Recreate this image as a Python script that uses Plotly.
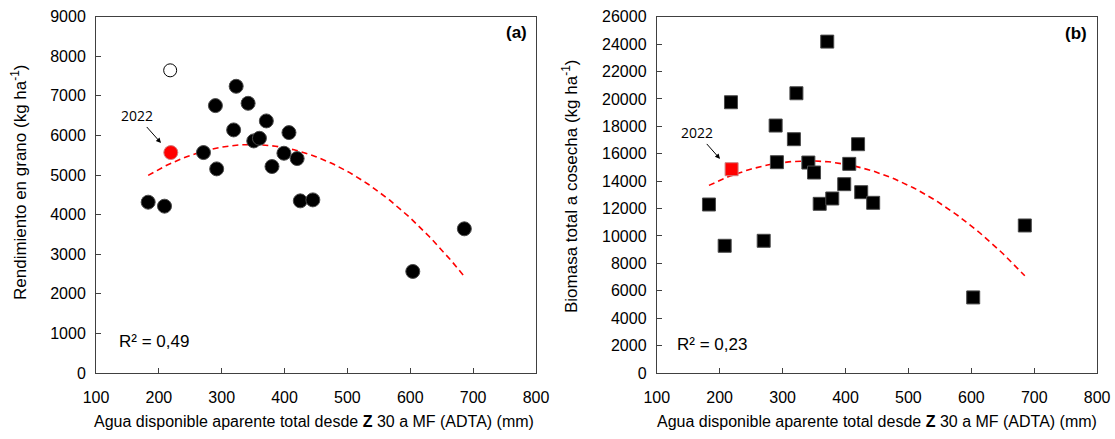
import numpy as np
import plotly.graph_objects as go
from plotly.subplots import make_subplots

# ---- Data (a): grain yield ----
adta_a = [183, 209, 271, 290, 292, 319, 323, 342, 351, 360, 371, 380, 399, 407, 420, 425, 445, 604, 686]
yield_a = [4315, 4214, 5568, 6754, 5156, 6140, 7242, 6812, 5862, 5929, 6367, 5215, 5551, 6072, 5416, 4348, 4373, 2565, 3642]
red_a_x = [219]
red_a_y = [5568]
open_a_x = [218]
open_a_y = [7645]
fit_a = [-0.029, 20.13, 2278]   # quadratic coefficients (a)

# ---- Data (b): total biomass ----
adta_b = [183, 208, 218, 270, 289, 291, 318, 322, 341, 350, 359, 371, 379, 398, 406, 420, 425, 444, 603, 685]
bio_b = [12296, 9283, 19757, 9648, 18056, 15383, 17060, 20413, 15358, 14629, 12345, 24180, 12734, 13779, 15261, 16695, 13196, 12418, 5516, 10765]
red_b_x = [219]
red_b_y = [14872]
fit_b = [-0.0711, 48.58, 7183]  # quadratic coefficients (b)

fit_range = [183, 685]

xt = [100, 200, 300, 400, 500, 600, 700, 800]
yt_a = list(range(0, 9001, 1000))
yt_b = list(range(0, 26001, 2000))

FONT = "Liberation Sans, Arial, sans-serif"
xs = np.linspace(fit_range[0], fit_range[1], 120)

fig = make_subplots(rows=1, cols=2)

fig.add_trace(go.Scatter(x=xs, y=np.polyval(fit_a, xs), mode="lines",
                         line=dict(color="#FF0000", width=1.6, dash="6px,4px")), 1, 1)
fig.add_trace(go.Scatter(x=adta_a, y=yield_a, mode="markers",
                         marker=dict(symbol="circle", size=14, color="black",
                                     line=dict(color="#4a4a4a", width=1))), 1, 1)
fig.add_trace(go.Scatter(x=red_a_x, y=red_a_y, mode="markers",
                         marker=dict(symbol="circle", size=14, color="#FF0000",
                                     line=dict(color="#d08080", width=1))), 1, 1)
fig.add_trace(go.Scatter(x=open_a_x, y=open_a_y, mode="markers",
                         marker=dict(symbol="circle", size=13, color="white",
                                     line=dict(color="black", width=1))), 1, 1)

fig.add_trace(go.Scatter(x=xs, y=np.polyval(fit_b, xs), mode="lines",
                         line=dict(color="#FF0000", width=1.6, dash="6px,4px")), 1, 2)
fig.add_trace(go.Scatter(x=adta_b, y=bio_b, mode="markers",
                         marker=dict(symbol="square", size=13, color="black",
                                     line=dict(color="#4a4a4a", width=1))), 1, 2)
fig.add_trace(go.Scatter(x=red_b_x, y=red_b_y, mode="markers",
                         marker=dict(symbol="square", size=13, color="#FF0000",
                                     line=dict(color="#d08080", width=1))), 1, 2)

axis_common = dict(showgrid=False, zeroline=False, showline=True, linecolor="#404040",
                   linewidth=1, mirror=True, ticks="inside", ticklen=5, tickcolor="#404040",
                   automargin=False,
                   tickfont=dict(family=FONT, size=16, color="black"))

fig.update_xaxes(**axis_common, range=[100, 800], tickvals=xt, ticktext=[str(v) for v in xt],
                 ticklabelstandoff=10)
fig.update_xaxes(domain=[0.0861, 0.4807], row=1, col=1)
fig.update_xaxes(domain=[0.589, 0.984], row=1, col=2)

fig.update_yaxes(**axis_common, ticklabelstandoff=6)
fig.update_yaxes(range=[0, 9000], tickvals=yt_a, ticktext=[str(v) for v in yt_a],
                 domain=[0.1503, 0.962], row=1, col=1)
fig.update_yaxes(range=[0, 26000], tickvals=yt_b, ticktext=[str(v) for v in yt_b],
                 domain=[0.1503, 0.962], row=1, col=2)

title_font = dict(family=FONT, size=16, color="black")
xtitle = "Agua disponible aparente total desde <b>Z</b> 30 a MF (ADTA) (mm)"
fig.add_annotation(x=313.5 / 1115, y=1 - 421 / 439, xref="paper", yref="paper", text=xtitle,
                   showarrow=False, font=title_font, xanchor="center", yanchor="middle")
fig.add_annotation(x=877 / 1115, y=1 - 421 / 439, xref="paper", yref="paper", text=xtitle,
                   showarrow=False, font=title_font, xanchor="center", yanchor="middle")
ytitle_font = dict(family=FONT, size=17, color="black")
fig.add_annotation(x=19 / 1115, y=1 - 182 / 439, xref="paper", yref="paper",
                   text="Rendimiento en grano (kg ha<sup>-1</sup>)", textangle=-90,
                   showarrow=False, font=ytitle_font, xanchor="center", yanchor="middle")
fig.add_annotation(x=570 / 1115, y=1 - 187 / 439, xref="paper", yref="paper",
                   text="Biomasa total a cosecha (kg ha<sup>-1</sup>)", textangle=-90,
                   showarrow=False, font=ytitle_font, xanchor="center", yanchor="middle")

ann_font = dict(family="Open Sans, sans-serif", size=14, color="black")
fig.add_annotation(x=203.4, y=5810, ax=165.2, ay=6492, xref="x", yref="y", axref="x", ayref="y",
                   text="2022", showarrow=True, arrowhead=2, arrowsize=1, arrowwidth=1,
                   arrowcolor="black", font=ann_font)
fig.add_annotation(x=200.6, y=15620, ax=164.1, ay=17518, xref="x2", yref="y2", axref="x2", ayref="y2",
                   text="2022", showarrow=True, arrowhead=2, arrowsize=1, arrowwidth=1,
                   arrowcolor="black", font=ann_font)

fig.add_annotation(x=769, y=8613, xref="x", yref="y", text="<b>(a)</b>", showarrow=False,
                   font=dict(family=FONT, size=17, color="black"))
fig.add_annotation(x=767, y=24745, xref="x2", yref="y2", text="<b>(b)</b>", showarrow=False,
                   font=dict(family=FONT, size=17, color="black"))

fig.add_annotation(x=134, y=790, xref="x", yref="y", text="R² = 0,49", showarrow=False,
                   xanchor="left", font=dict(family=FONT, size=17, color="black"))
fig.add_annotation(x=129, y=2095, xref="x2", yref="y2", text="R² = 0,23", showarrow=False,
                   xanchor="left", font=dict(family=FONT, size=17, color="black"))

fig.update_layout(width=1115, height=439, margin=dict(l=0, r=0, t=0, b=0),
                  paper_bgcolor="white", plot_bgcolor="white", showlegend=False)

fig.write_html("out.html")
